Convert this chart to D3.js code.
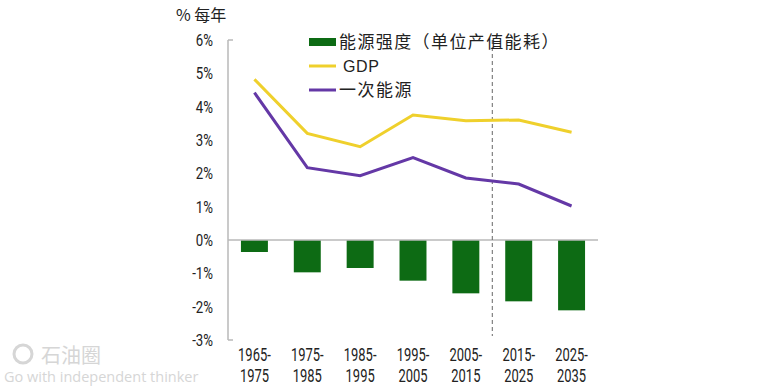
<!DOCTYPE html>
<html>
<head>
<meta charset="utf-8">
<script src="https://cdn.jsdelivr.net/npm/d3@7"></script>
<style>
html,body{margin:0;padding:0;background:#fff;}
svg{display:block;}
.tick-label{font-family:"Roboto","Liberation Sans",sans-serif;}
.cjk{font-family:"Noto Sans CJK SC",sans-serif;}
</style>
</head>
<body>
<svg id="chart" width="775" height="388"></svg>
<script>
const categories = ["1965-1975","1975-1985","1985-1995","1995-2005","2005-2015","2015-2025","2025-2035"];
const intensity = [-0.36,-0.97,-0.84,-1.22,-1.60,-1.84,-2.11];
const gdp = [4.82,3.20,2.80,3.75,3.58,3.60,3.23];
const primaryEnergy = [4.42,2.17,1.93,2.47,1.86,1.68,1.02];
const yTicks = [6,5,4,3,2,1,0,-1,-2,-3];
const legendLabels = ["能源强度（单位产值能耗）","GDP","一次能源"];
const yTitle = "% 每年";

const svg = d3.select("#chart");
const green = "#0d6b14", yellow = "#efd02c", purple = "#6438a6", grey = "#b8b8b8";

const x = d3.scaleBand().domain(categories).range([228, 598]).paddingInner(0.49).paddingOuter(0.245);
const y = d3.scaleLinear().domain([-3, 6]).range([340, 40]);

// watermark
const wm = svg.append("g").attr("fill", "#d6d6d6");
wm.append("circle").attr("cx", 23).attr("cy", 354).attr("r", 9).attr("fill", "none").attr("stroke", "#d6d6d6").attr("stroke-width", 3);
wm.append("text").attr("class","cjk").attr("x", 41).attr("y", 363).attr("font-size", 20).text("石油圈");
wm.append("text").attr("x", 4).attr("y", 382).attr("font-family","Open Sans, sans-serif").attr("font-size", 14.5).text("Go with independent thinker");

// y axis line with end caps
svg.append("line").attr("x1", 228).attr("x2", 228).attr("y1", y(6)).attr("y2", y(-3)).attr("stroke", grey).attr("stroke-width", 1.5);
[6, -3].forEach(v => svg.append("line").attr("x1", 228).attr("x2", 233).attr("y1", y(v)).attr("y2", y(v)).attr("stroke", grey).attr("stroke-width", 1.5));

// y tick labels (condensed)
svg.append("g").selectAll("text").data(yTicks).join("text")
  .attr("class","tick-label")
  .attr("transform", d => `translate(213,${y(d) + 6}) scale(0.78,1)`)
  .attr("text-anchor", "end").attr("font-size", 17).attr("fill", "#222")
  .text(d => d + "%");

// y title
svg.append("text").attr("class","cjk").attr("x", 176).attr("y", 21).attr("font-size", 16).attr("fill", "#222").text(yTitle);

// bars
svg.append("g").selectAll("rect").data(intensity).join("rect")
  .attr("x", (d, i) => x(categories[i]))
  .attr("width", x.bandwidth())
  .attr("y", d => y(Math.max(0, d)))
  .attr("height", d => Math.abs(y(d) - y(0)))
  .attr("fill", green);

// zero line
svg.append("line").attr("x1", 228).attr("x2", 598).attr("y1", y(0)).attr("y2", y(0)).attr("stroke", grey).attr("stroke-width", 1.5);

// dashed separator
const sepX = x(categories[5]) - x.step() * x.paddingInner() / 2;
svg.append("line").attr("x1", sepX).attr("x2", sepX).attr("y1", y(6)).attr("y2", 336)
  .attr("stroke", "#666").attr("stroke-width", 1).attr("stroke-dasharray", "4,3");

// lines
const line = d3.line().x((d, i) => x(categories[i]) + x.bandwidth() / 2).y(d => y(d));
svg.append("path").datum(gdp).attr("d", line).attr("fill", "none").attr("stroke", yellow).attr("stroke-width", 3);
svg.append("path").datum(primaryEnergy).attr("d", line).attr("fill", "none").attr("stroke", purple).attr("stroke-width", 3);

// x labels (condensed, two lines)
const xg = svg.append("g").selectAll("g").data(categories).join("g")
  .attr("transform", d => `translate(${x(d) + x.bandwidth() / 2},0) scale(0.74,1)`);
xg.append("text").attr("class","tick-label").attr("text-anchor","middle").attr("font-size",17.5).attr("fill","#222")
  .attr("y", 361).text(d => d.split("-")[0] + "-");
xg.append("text").attr("class","tick-label").attr("text-anchor","middle").attr("font-size",17.5).attr("fill","#222")
  .attr("y", 382).text(d => d.split("-")[1]);

// legend
const lg = svg.append("g");
lg.append("rect").attr("x", 309).attr("y", 38).attr("width", 27).attr("height", 8).attr("fill", green);
lg.append("line").attr("x1", 309).attr("x2", 336).attr("y1", 66).attr("y2", 66).attr("stroke", yellow).attr("stroke-width", 3);
lg.append("line").attr("x1", 309).attr("x2", 336).attr("y1", 90).attr("y2", 90).attr("stroke", purple).attr("stroke-width", 3);
lg.append("text").attr("class","cjk").attr("x", 339).attr("y", 42).attr("dy","0.36em").attr("font-size", 17).attr("letter-spacing", 1.4).attr("fill", "#222").text(legendLabels[0]);
lg.append("text").attr("x", 343).attr("y", 66).attr("dy","0.36em").attr("font-family","Liberation Sans, sans-serif").attr("font-size", 16).attr("letter-spacing", 0.6).attr("fill", "#222").text(legendLabels[1]);
lg.append("text").attr("class","cjk").attr("x", 339).attr("y", 90).attr("dy","0.36em").attr("font-size", 17).attr("letter-spacing", 1.5).attr("fill", "#222").text(legendLabels[2]);
</script>
</body>
</html>
